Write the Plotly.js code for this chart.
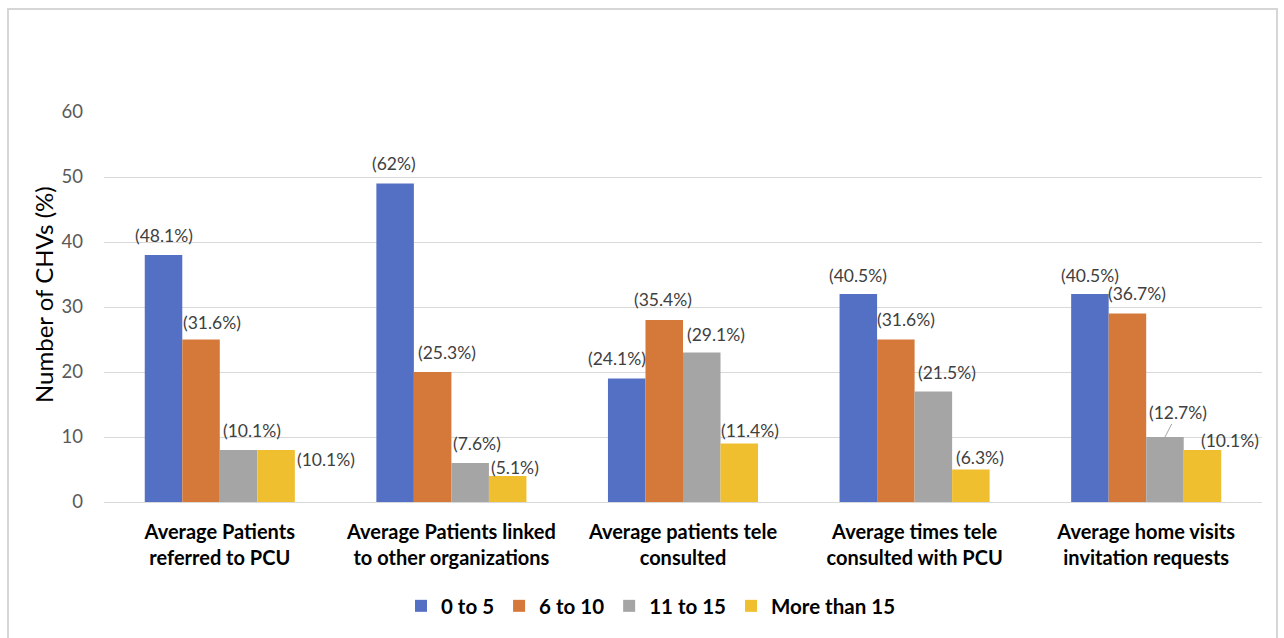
<!DOCTYPE html>
<html>
<head>
<meta charset="utf-8">
<script src="https://cdn.plot.ly/plotly-3.0.1.min.js"></script>
<style>
html,body{margin:0;padding:0;background:#fff;}
#chart{width:1284px;height:638px;position:absolute;left:0;top:0;}
#frame{position:absolute;left:7px;top:8px;width:1267px;height:640px;border:2px solid #d6d6d6;pointer-events:none;}
</style>
</head>
<body>
<div id="chart"></div>
<div id="frame"></div>
<script>
// ---- data ----
const categories = [
  "Average Patients<br>referred to PCU",
  "Average Patients linked<br>to other organizations",
  "Average patients tele<br>consulted",
  "Average times tele<br>consulted with PCU",
  "Average home visits<br>invitation requests"
];
const seriesNames = ["0 to 5", "6 to 10", "11 to 15", "More than 15"];
const vals0to5 = [38, 49, 19, 32, 32];
const vals6to10 = [25, 20, 28, 25, 29];
const vals11to15 = [8, 6, 23, 17, 10];
const valsMore15 = [8, 4, 9, 5, 8];
const pct0to5 = ["(48.1%)", "(62%)", "(24.1%)", "(40.5%)", "(40.5%)"];
const pct6to10 = ["(31.6%)", "(25.3%)", "(35.4%)", "(31.6%)", "(36.7%)"];
const pct11to15 = ["(10.1%)", "(7.6%)", "(29.1%)", "(21.5%)", "(12.7%)"];
const pctMore15 = ["(10.1%)", "(5.1%)", "(11.4%)", "(6.3%)", "(10.1%)"];
const yTitle = "Number of CHVs (%)";

// ---- style ----
const colors = ["#5470c4", "#d5793a", "#a5a5a5", "#f0bf2f"];
const FONT = "Lato, 'Open Sans', sans-serif";
const W = 1284, H = 638;
const M = {l: 104, r: 22, t: 112, b: 136};
const BARGAP = 0.352;
// label nudges in px [dx, dy-above-bar-top] per series, per category (placement only)
const labelNudge = [
  [[0, 20], [-1, 20], [-10, 20], [0, 19], [0, 19]],
  [[11, 17], [14, 20], [-1, 21], [10, 20], [10, 20]],
  [[13, 20], [7, 20], [14, 18], [14, 19], [13, 25]],
  [[50, -9], [7, 9], [11, 13], [9, 12], [28, 10]]
];
const leaderLine = {series: 2, cat: 4};

const allVals = [vals0to5, vals6to10, vals11to15, valsMore15];
const allPct = [pct0to5, pct6to10, pct11to15, pctMore15];

const traces = allVals.map((v, i) => ({
  type: "bar",
  name: seriesNames[i],
  x: categories,
  y: v,
  marker: {color: colors[i]},
  hoverinfo: "name+y"
}));

const plotW = W - M.l - M.r;
const bandPx = plotW / categories.length;
const barPx = bandPx * (1 - BARGAP) / allVals.length;

const annotations = [];
allVals.forEach((v, i) => {
  const off = (i - (allVals.length - 1) / 2) * barPx;
  v.forEach((val, j) => {
    const [dx, dy] = labelNudge[i][j];
    const isLeader = (i === leaderLine.series && j === leaderLine.cat);
    const a = {
      x: categories[j], y: val, xref: "x", yref: "y",
      text: allPct[i][j],
      font: {family: FONT, size: 17.5, color: "#404040"},
      xanchor: "center", yanchor: "middle"
    };
    if (isLeader) {
      a.showarrow = true; a.arrowhead = 0; a.arrowwidth = 1; a.arrowcolor = "#a5a5a5";
      a.ax = dx; a.ay = -dy; a.xshift = off;
    } else {
      a.showarrow = false; a.xshift = off + dx; a.yshift = dy;
    }
    annotations.push(a);
  });
});
annotations.push({
  xref: "paper", yref: "paper",
  x: (43 - M.l) / plotW, y: (H - M.b - 295) / (H - M.t - M.b),
  text: yTitle, textangle: -90, showarrow: false,
  font: {family: FONT, size: 24, color: "#000000"},
  xanchor: "center", yanchor: "middle"
});

const layout = {
  width: W,
  height: H,
  margin: {l: M.l, r: M.r, t: M.t, b: M.b, autoexpand: false},
  paper_bgcolor: "#ffffff",
  plot_bgcolor: "#ffffff",
  barmode: "group",
  bargap: BARGAP,
  bargroupgap: 0,
  font: {family: FONT, color: "#595959"},
  xaxis: {
    tickfont: {family: FONT, size: 20, color: "#000000", weight: "bold"},
    showline: true,
    linecolor: "#d9d9d9",
    linewidth: 1,
    ticks: "",
    ticklabelstandoff: 12
  },
  yaxis: {
    range: [0, 60],
    dtick: 10,
    tickfont: {family: FONT, size: 18.5, color: "#595959"},
    gridcolor: "#d9d9d9",
    gridwidth: 1,
    zeroline: false,
    ticks: "",
    ticklabelstandoff: 20
  },
  legend: {
    orientation: "h",
    x: (651 - M.l) / plotW,
    xanchor: "center",
    y: (H - M.b - 606) / (H - M.t - M.b),
    yanchor: "middle",
    font: {family: FONT, size: 20.5, color: "#000000", weight: "bold"},
    itemwidth: 30,
    traceorder: "normal"
  },
  annotations: annotations,
  showlegend: true
};

Plotly.newPlot("chart", traces, layout, {displayModeBar: false});
</script>
</body>
</html>
